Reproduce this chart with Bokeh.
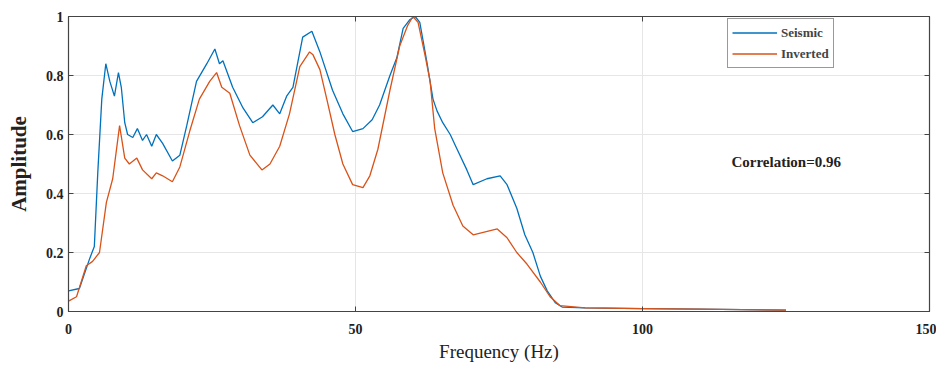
from bokeh.plotting import figure
from bokeh.models import LinearAxis, Legend, LegendItem, Label, FixedTicker, Range1d
from bokeh.embed import file_html
from bokeh.resources import INLINE

# Seismic spectrum (blue)
seis_f = [0, 1.9, 3.7, 4.5, 5.1, 5.8, 6.5, 7.2, 8.0, 8.7, 9.2, 9.8, 10.3, 11.2, 12.0, 12.9,
          13.6, 14.5, 15.3, 16.4, 18.1, 19.4, 20.6, 22.3, 24.1, 25.5, 26.3, 26.9, 28.6, 30.4,
          32.1, 33.8, 35.6, 36.8, 38.0, 39.1, 40.8, 42.4, 43.8, 46.0, 47.8, 49.5, 51.3, 52.9,
          54.2, 56.0, 57.2, 58.3, 59.5, 60.4, 61.2, 62.4, 63.5, 64.2, 65.2, 66.5, 67.7, 69.4,
          70.5, 72.9, 75.2, 76.4, 78.1, 79.5, 80.9, 82.2, 83.4, 84.8, 86.0, 90, 100, 110, 125]
seis_a = [0.07, 0.078, 0.18, 0.22, 0.47, 0.72, 0.84, 0.78, 0.73, 0.81, 0.76, 0.64, 0.60, 0.59, 0.62, 0.58,
          0.60, 0.56, 0.60, 0.57, 0.51, 0.53, 0.63, 0.78, 0.84, 0.89, 0.84, 0.85, 0.76, 0.69,
          0.64, 0.66, 0.70, 0.67, 0.73, 0.76, 0.93, 0.95, 0.88, 0.75, 0.67, 0.61, 0.62, 0.65,
          0.70, 0.80, 0.86, 0.96, 0.99, 1.0, 0.98, 0.85, 0.72, 0.68, 0.64, 0.60, 0.55, 0.48,
          0.43, 0.45, 0.46, 0.43, 0.35, 0.26, 0.20, 0.12, 0.07, 0.03, 0.015, 0.012, 0.01, 0.008, 0.005]

# Inverted spectrum (orange)
inv_f = [0, 1.4, 3.1, 4.2, 5.4, 6.6, 7.7, 8.9, 9.8, 10.6, 11.9, 12.9, 14.5, 15.3, 16.4, 18.1,
         19.4, 21.1, 22.8, 24.6, 25.8, 26.7, 28.1, 29.8, 31.6, 33.7, 35.1, 36.8, 38.5, 40.3,
         42.0, 42.6, 43.8, 45.0, 46.4, 47.8, 49.5, 51.3, 52.5, 53.9, 56.0, 57.7, 59.1, 60.0,
         60.9, 62.1, 63.0, 63.8, 65.2, 67.0, 68.7, 70.5, 72.6, 74.7, 76.4, 78.1, 79.9, 82.2,
         83.9, 85.6, 90, 100, 110, 125]
inv_a = [0.035, 0.05, 0.155, 0.17, 0.20, 0.37, 0.45, 0.63, 0.52, 0.50, 0.52, 0.48, 0.45, 0.47, 0.46, 0.44,
         0.49, 0.61, 0.72, 0.78, 0.81, 0.76, 0.74, 0.63, 0.53, 0.48, 0.50, 0.56, 0.67, 0.83,
         0.88, 0.87, 0.82, 0.72, 0.60, 0.50, 0.43, 0.42, 0.46, 0.55, 0.75, 0.90, 0.97, 1.0,
         0.98, 0.87, 0.78, 0.62, 0.47, 0.36, 0.29, 0.26, 0.27, 0.28, 0.25, 0.20, 0.16, 0.10,
         0.05, 0.02, 0.012, 0.01, 0.008, 0.005]

x_ticks = [0, 50, 100, 150]
y_ticks = [0, 0.2, 0.4, 0.6, 0.8, 1]
y_labels = {0: "0", 0.2: "0.2", 0.4: "0.4", 0.6: "0.6", 0.8: "0.8", 1: "1"}

SERIF = "Liberation Serif"

p = figure(width=936, height=364, output_backend="svg", toolbar_location=None,
           x_range=Range1d(0, 150), y_range=Range1d(0, 1),
           min_border_left=68, min_border_right=7, min_border_top=16, min_border_bottom=52)

p.outline_line_color = "#444444"
p.outline_line_width = 1.2
p.background_fill_color = "white"

r1 = p.line(seis_f, seis_a, line_color="#0072BD", line_width=1.3)
r2 = p.line(inv_f, inv_a, line_color="#D95319", line_width=1.3)

for ax in (p.xaxis[0], p.yaxis[0]):
    ax.major_tick_in = 5
    ax.major_tick_out = 0
    ax.minor_tick_in = 0
    ax.minor_tick_out = 0
    ax.axis_line_color = "#444444"
    ax.major_tick_line_color = "#444444"
    ax.major_label_text_font = SERIF
    ax.major_label_text_font_style = "bold"
    ax.major_label_text_font_size = "14px"
    ax.major_label_text_color = "#222222"
    ax.axis_label_text_font = SERIF
    ax.axis_label_text_color = "#222222"

p.xaxis[0].ticker = FixedTicker(ticks=x_ticks)
p.yaxis[0].ticker = FixedTicker(ticks=y_ticks)
p.yaxis[0].major_label_overrides = y_labels
p.xaxis[0].axis_label = "Frequency (Hz)"
p.yaxis[0].axis_label = "Amplitude"
p.xaxis[0].axis_label_text_font_style = "normal"
p.xaxis[0].axis_label_text_font_size = "19px"
p.yaxis[0].axis_label_text_font_style = "bold"
p.yaxis[0].axis_label_text_font_size = "21px"
p.xaxis[0].major_label_standoff = 12
p.yaxis[0].major_label_standoff = 5
p.xaxis[0].axis_label_standoff = 4
p.yaxis[0].axis_label_standoff = 12

for loc, tk in (("right", y_ticks), ("above", x_ticks)):
    a = LinearAxis(ticker=FixedTicker(ticks=tk), major_tick_in=5, major_tick_out=0,
                   minor_tick_in=0, minor_tick_out=0, major_label_text_font_size="1px",
                   major_label_text_color=None, major_label_standoff=0,
                   axis_line_color="#444444", major_tick_line_color="#444444")
    p.add_layout(a, loc)

p.xgrid.ticker = FixedTicker(ticks=x_ticks)
p.ygrid.ticker = FixedTicker(ticks=y_ticks)
p.grid.grid_line_color = "#e6e6e6"
p.grid.grid_line_width = 1

legend = Legend(items=[LegendItem(label="Seismic", renderers=[r1]),
                       LegendItem(label="Inverted", renderers=[r2])],
                location=(659, 243))
legend.label_text_font = SERIF
legend.label_text_font_style = "bold"
legend.label_text_font_size = "13px"
legend.label_height = 19
legend.glyph_height = 19
legend.glyph_width = 45
legend.spacing = 2
legend.padding = 4
legend.margin = 0
legend.label_standoff = 4
legend.border_line_color = "#333333"
legend.border_line_width = 1
legend.background_fill_alpha = 1
p.add_layout(legend)

p.add_layout(Label(x=115.5, y=0.507, text="Correlation=0.96", text_font=SERIF,
                   text_font_style="bold", text_font_size="15px", text_color="#222222",
                   text_baseline="middle"))

open("out.html", "w").write(file_html(p, INLINE))
